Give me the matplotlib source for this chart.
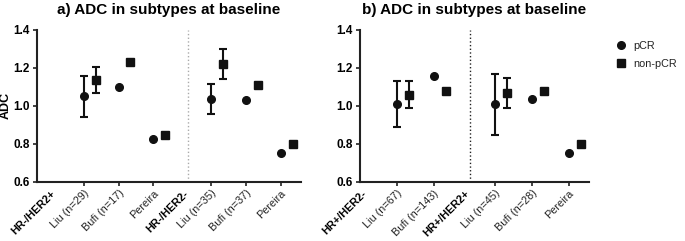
import matplotlib
matplotlib.use("Agg")
import matplotlib.pyplot as plt
import numpy as np

plt.rcParams['font.family'] = ['Liberation Sans', 'DejaVu Sans']

# ---- panel a data ----
a_labels = ['HR-/HER2+', 'Liu (n=29)', 'Bufi (n=17)', 'Pereira',
            'HR-/HER2-', 'Liu (n=35)', 'Bufi (n=37)', 'Pereira']
a_bold = [True, False, False, False, True, False, False, False]
a_pos = [0.05, 1, 2, 3, 3.85, 4.67, 5.67, 6.67]
a_study_pos = [1, 2, 3, 4.67, 5.67, 6.67]
a_pcr = [1.05, 1.10, 0.825, 1.037, 1.033, 0.754]
a_pcr_lo = [0.94, np.nan, np.nan, 0.96, np.nan, np.nan]
a_pcr_hi = [1.16, np.nan, np.nan, 1.116, np.nan, np.nan]
a_non = [1.137, 1.23, 0.846, 1.219, 1.112, 0.80]
a_non_lo = [1.07, np.nan, np.nan, 1.14, np.nan, np.nan]
a_non_hi = [1.207, np.nan, np.nan, 1.298, np.nan, np.nan]
a_divider = 4.0

# ---- panel b data ----
b_labels = ['HR+/HER2-', 'Liu (n=67)', 'Bufi (n=143)',
            'HR+/HER2+', 'Liu (n=45)', 'Bufi (n=28)', 'Pereira']
b_bold = [True, False, False, True, False, False, False]
b_pos = [0.05, 1, 2, 2.85, 3.66, 4.66, 5.66]
b_study_pos = [1, 2, 3.66, 4.66, 5.66]
b_pcr = [1.009, 1.156, 1.009, 1.035, 0.754]
b_pcr_lo = [0.89, np.nan, 0.847, np.nan, np.nan]
b_pcr_hi = [1.13, np.nan, 1.17, np.nan, np.nan]
b_non = [1.06, 1.079, 1.07, 1.079, 0.80]
b_non_lo = [0.988, np.nan, 0.99, np.nan, np.nan]
b_non_hi = [1.13, np.nan, 1.149, np.nan, np.nan]
b_divider = 2.99

col = '#111111'


def draw_series(ax, x, y, lo, hi, marker, label):
    x = np.array(x)
    y = np.array(y)
    lo = np.array(lo)
    hi = np.array(hi)
    has = ~np.isnan(lo)
    # error bars only where the study reported a range
    ax.errorbar(x[has], y[has], yerr=[y[has] - lo[has], hi[has] - y[has]],
                fmt='none', ecolor=col, elinewidth=1.5, capsize=3,
                capthick=1.5)
    ax.plot(x, y, ls='none', marker=marker, ms=5.5, color=col, label=label)


def panel(ax, title, labels, bold, pos, spos, pcr, plo, phi, non, nlo, nhi,
          divider, xlim, offset, divcol, ylabel):
    draw_series(ax, spos, pcr, plo, phi, 'o', 'pCR')
    draw_series(ax, np.array(spos) + offset, non, nlo, nhi, 's', 'non-pCR')
    ax.axvline(divider, ymin=0, ymax=1, color=divcol, ls=':', lw=1.0)
    ax.set_xlim(*xlim)
    ax.set_ylim(0.6, 1.4)
    ax.set_yticks([0.6, 0.8, 1.0, 1.2, 1.4])
    ax.set_yticklabels(['0.6', '0.8', '1.0', '1.2', '1.4'],
                       fontweight='bold', fontsize=8.5)
    ax.set_xticks(pos)
    ax.set_xticklabels(labels, rotation=45, ha='right',
                       rotation_mode='anchor', fontsize=7.8, color='#222222')
    for t, b, tk in zip(ax.get_xticklabels(), bold, ax.xaxis.get_major_ticks()):
        if b:
            t.set_fontweight('bold')
            t.set_color('black')
            tk.tick1line.set_visible(False)
    ax.spines['top'].set_visible(False)
    ax.spines['right'].set_visible(False)
    for s in ['left', 'bottom']:
        ax.spines[s].set_linewidth(1.5)
        ax.spines[s].set_color('#222222')
    ax.tick_params(axis='both', width=1.2, length=3, color='#222222', pad=2)
    ax.tick_params(axis='x', pad=1.5)
    ax.set_title(title, fontweight='bold', fontsize=11, pad=11.5)
    if ylabel:
        ax.set_ylabel('ADC', fontweight='bold', fontsize=9, labelpad=1)


fig = plt.figure(figsize=(6.85, 2.41), dpi=100)
ax1 = fig.add_axes([0.054, 0.245, 0.385, 0.631])
ax2 = fig.add_axes([0.5255, 0.245, 0.3345, 0.631])

panel(ax1, 'a) ADC in subtypes at baseline', a_labels, a_bold, a_pos,
      a_study_pos, a_pcr, a_pcr_lo, a_pcr_hi, a_non, a_non_lo, a_non_hi,
      a_divider, (-0.35, 7.24), 0.34, '#aaaaaa', True)
panel(ax2, 'b) ADC in subtypes at baseline', b_labels, b_bold, b_pos,
      b_study_pos, b_pcr, b_pcr_lo, b_pcr_hi, b_non, b_non_lo, b_non_hi,
      b_divider, (0.01, 6.21), 0.33, '#222222', False)

ax2.legend(loc='upper left', bbox_to_anchor=(1.075, 0.99), frameon=False,
           fontsize=7.8, handletextpad=0.6, labelspacing=0.75,
           handlelength=1.0, labelcolor='#222222')

fig.savefig('out.png', dpi=100)
